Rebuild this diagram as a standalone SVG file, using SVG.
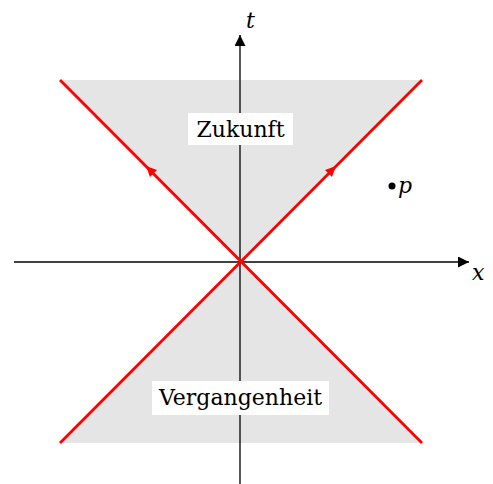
<svg xmlns="http://www.w3.org/2000/svg" width="493" height="484" viewBox="0 0 493 484">
<style>
text{font-family:"DejaVu Serif","Liberation Serif",serif;font-size:22px;fill:#000}
.it{font-style:italic}
.ax{stroke:#000;stroke-width:1.3;fill:none}
.lc{stroke:#ff0000;stroke-width:2.8;fill:none}
</style>
<defs>
<marker id="ah" viewBox="0 0 10 10" refX="10" refY="5" markerWidth="11" markerHeight="11" markerUnits="userSpaceOnUse" orient="auto">
<path d="M0,0 L10,5 L0,10 Z" fill="#000"/>
</marker>
</defs>
<g id="cones">
<polygon points="60,80 422,80 240,262" fill="#e5e5e5"/>
<polygon points="60,443 422,443 240,262" fill="#e5e5e5"/>
</g>
<g id="connectors">
<line class="ax" x1="14" y1="262" x2="469" y2="262" marker-end="url(#ah)"/>
<line class="ax" x1="240" y1="484" x2="240" y2="35" marker-end="url(#ah)"/>
<line class="lc" x1="60" y1="80" x2="422" y2="443"/>
<line class="lc" x1="422" y1="80" x2="60" y2="443"/>
<polygon points="146,166 157,170 150,177" fill="#ff0000"/>
<polygon points="336,166 332,177 325,170" fill="#ff0000"/>
</g>
<g id="zukunft">
<rect x="188" y="113" width="105" height="32" fill="#fff"/>
<text x="240.5" y="137" text-anchor="middle">Zukunft</text>
</g>
<g id="vergangenheit">
<rect x="152" y="381" width="177" height="34" fill="#fff"/>
<text x="240.5" y="405" text-anchor="middle">Vergangenheit</text>
</g>
<g id="p">
<circle cx="392" cy="186" r="3.5" fill="#000"/>
<text class="it" x="398" y="193">p</text>
</g>
<text class="it" x="246" y="28">t</text>
<text class="it" x="472" y="280">x</text>
</svg>
